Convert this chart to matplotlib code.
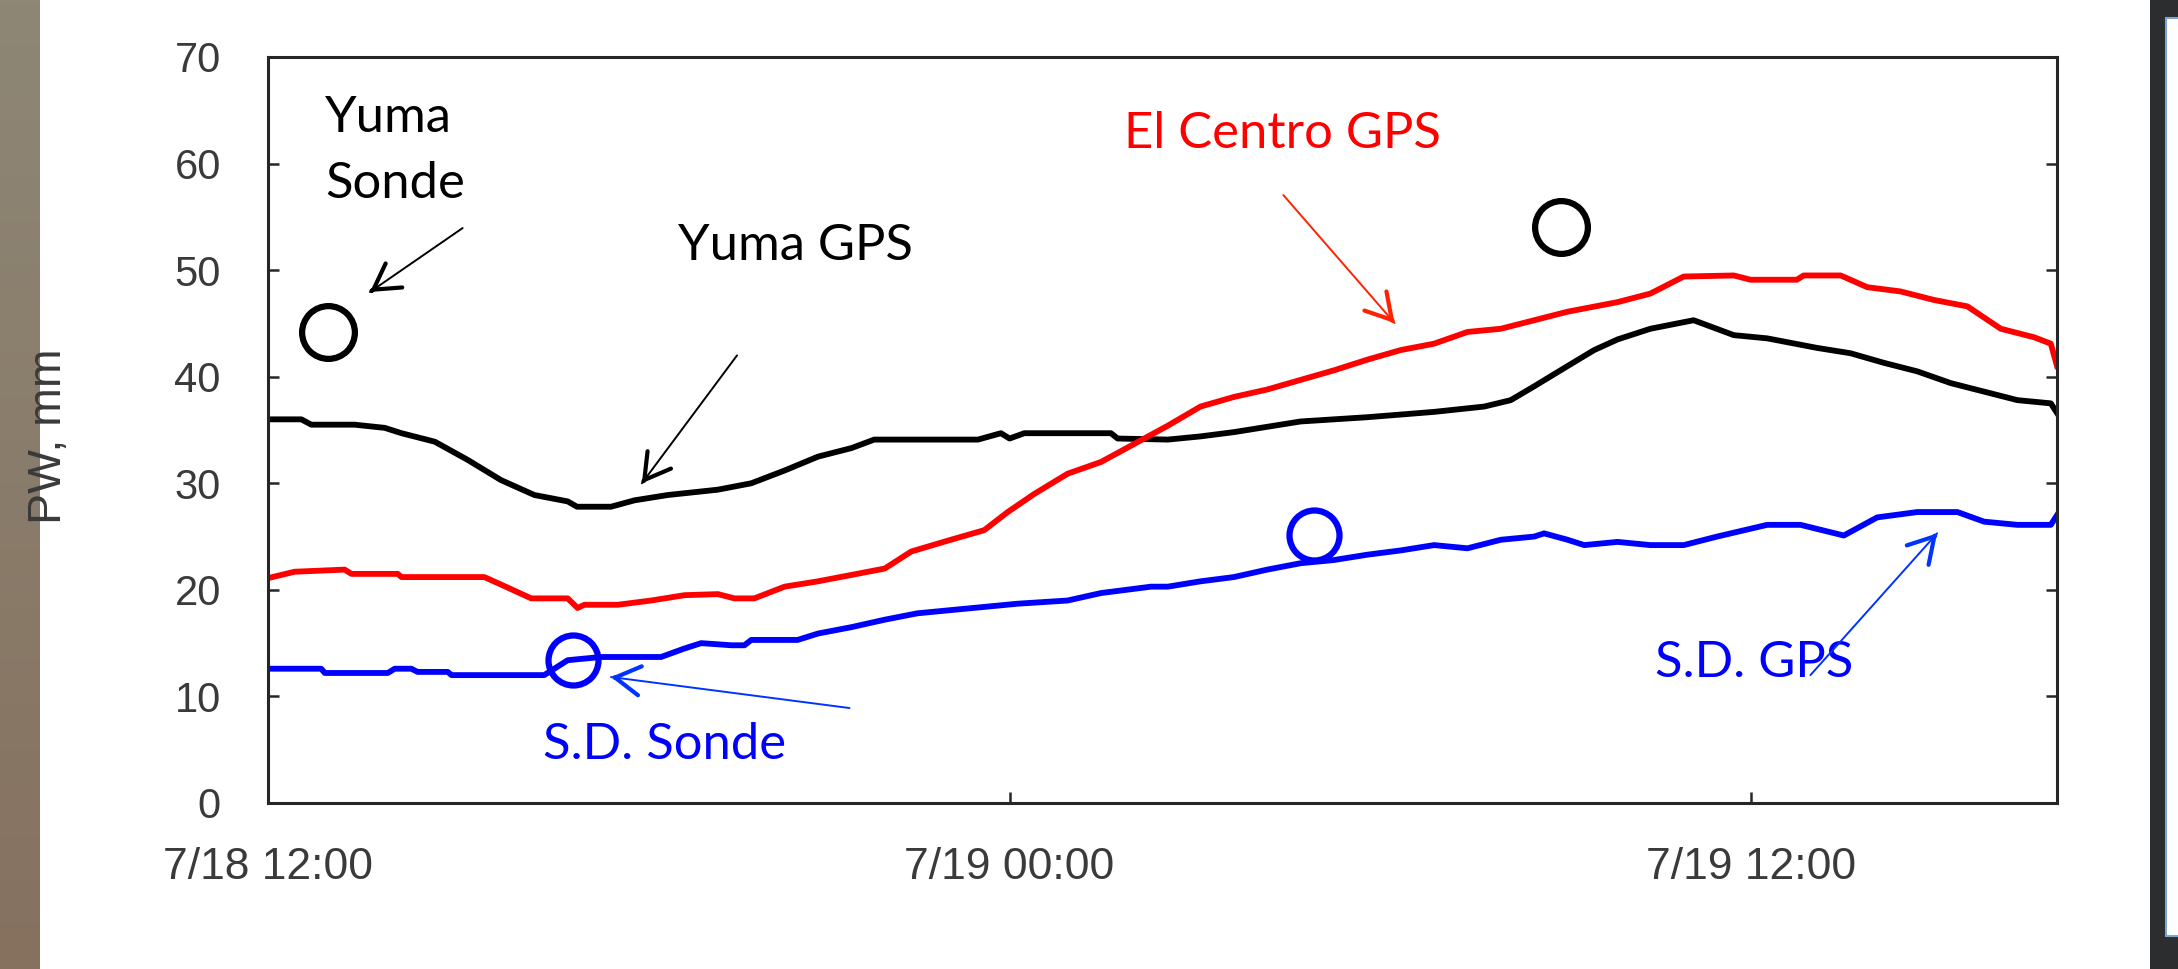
import numpy as np
import matplotlib
matplotlib.use('Agg')
import matplotlib.pyplot as plt
from matplotlib.patches import Rectangle


# hours after 7/18 12:00 and precipitable water (mm)
hours_yuma = [0.0, 0.54, 0.70, 1.40, 1.89, 2.16, 2.70, 3.23, 3.77, 4.31, 4.85, 5.00, 5.55,
              5.93, 6.47, 7.28, 7.82, 8.36, 8.90, 9.44, 9.81, 11.49, 11.86, 12.00, 12.24,
              13.64, 13.75, 14.56, 15.09, 15.63, 16.17, 16.71, 17.79, 18.87, 19.68, 20.11,
              20.49, 21.03, 21.46, 21.84, 22.37, 23.07, 23.72, 24.26, 25.07, 25.61, 26.15,
              26.69, 27.23, 27.77, 28.31, 28.85, 28.95]
pw_yuma_gps = [36.0, 36.0, 35.5, 35.5, 35.2, 34.7, 33.9, 32.2, 30.3, 28.9, 28.3, 27.8, 27.8,
               28.4, 28.9, 29.4, 30.0, 31.2, 32.5, 33.3, 34.1, 34.1, 34.7, 34.2, 34.7,
               34.7, 34.2, 34.1, 34.4, 34.8, 35.3, 35.8, 36.2, 36.7, 37.2, 37.8,
               39.1, 41.0, 42.5, 43.5, 44.5, 45.3, 43.9, 43.6, 42.7, 42.2, 41.3,
               40.5, 39.4, 38.6, 37.8, 37.5, 36.6]

hours_centro = [0.0, 0.43, 1.24, 1.35, 2.10, 2.16, 3.50, 3.77, 4.26, 4.85, 5.01, 5.12, 5.66,
                6.20, 6.74, 7.28, 7.55, 7.87, 8.36, 8.90, 9.44, 9.98, 10.41, 11.05, 11.59,
                11.97, 12.40, 12.94, 13.48, 14.02, 14.56, 15.09, 15.63, 16.17, 16.71, 17.25,
                17.79, 18.33, 18.87, 19.41, 19.95, 20.49, 21.03, 21.57, 21.84, 22.37, 22.91,
                23.72, 23.99, 24.74, 24.85, 25.45, 25.88, 26.42, 26.96, 27.50, 28.04, 28.58,
                28.85, 28.95]
pw_centro_gps = [21.1, 21.7, 21.9, 21.5, 21.5, 21.2, 21.2, 20.5, 19.2, 19.2, 18.3, 18.6, 18.6,
                 19.0, 19.5, 19.6, 19.2, 19.2, 20.3, 20.8, 21.4, 22.0, 23.6, 24.7, 25.6,
                 27.3, 29.0, 30.9, 32.0, 33.7, 35.4, 37.2, 38.1, 38.8, 39.7, 40.6,
                 41.6, 42.5, 43.1, 44.2, 44.5, 45.3, 46.1, 46.7, 47.0, 47.8, 49.4,
                 49.5, 49.1, 49.1, 49.5, 49.5, 48.4, 48.0, 47.2, 46.6, 44.5, 43.7,
                 43.1, 41.0]

hours_sd = [0.0, 0.86, 0.92, 1.94, 2.05, 2.32, 2.42, 2.91, 2.97, 4.47, 4.85, 5.39, 6.36,
            6.74, 7.01, 7.50, 7.71, 7.82, 8.57, 8.90, 9.44, 9.98, 10.51, 11.05, 11.59,
            12.13, 12.94, 13.48, 14.29, 14.56, 15.09, 15.63, 16.17, 16.71, 17.25, 17.79,
            18.33, 18.87, 19.41, 19.95, 20.49, 20.65, 21.03, 21.30, 21.84, 22.37, 22.91,
            23.45, 24.26, 24.80, 25.50, 26.04, 26.69, 27.34, 27.77, 28.31, 28.85, 28.95]
pw_sd_gps = [12.6, 12.6, 12.2, 12.2, 12.6, 12.6, 12.3, 12.3, 12.0, 12.0, 13.4, 13.7, 13.7,
             14.5, 15.0, 14.8, 14.8, 15.3, 15.3, 15.9, 16.5, 17.2, 17.8, 18.1, 18.4,
             18.7, 19.0, 19.7, 20.3, 20.3, 20.8, 21.2, 21.9, 22.5, 22.8, 23.3,
             23.7, 24.2, 23.9, 24.7, 25.0, 25.3, 24.7, 24.2, 24.5, 24.2, 24.2,
             25.0, 26.1, 26.1, 25.1, 26.8, 27.3, 27.3, 26.4, 26.1, 26.1, 27.0]

# radiosonde values
hours_yuma_sonde = [0.97, 20.93]
pw_yuma_sonde = [44.2, 54.05]
hours_sd_sonde = [4.93, 16.92]
pw_sd_sonde = [13.4, 25.15]

tick_hours = [0, 12, 24]
tick_labels = ['7/18 12:00', '7/19 00:00', '7/19 12:00']

W, H = 2178, 969
fig = plt.figure(figsize=(W / 100, H / 100), dpi=100)
fig.patch.set_facecolor('white')

# photo edge on the left and window edge on the right
strip = fig.add_axes([0, 0, 40 / W, 1])
grad = np.linspace(0, 1, 256).reshape(-1, 1, 1)
top_c = np.array([0x8e, 0x87, 0x76]) / 255
bot_c = np.array([0x86, 0x71, 0x5f]) / 255
strip.imshow(top_c * (1 - grad) + bot_c * grad, aspect='auto', extent=[0, 1, 0, 1])
strip.axis('off')
fig.patches.append(Rectangle((2150 / W, 0), 28 / W, 1, transform=fig.transFigure,
                             facecolor='#2c2d2e', edgecolor='none', zorder=5))
fig.patches.append(Rectangle((2166 / W, 1 - 936 / H), 20 / W, 918 / H, transform=fig.transFigure,
                             facecolor='white', edgecolor='#7aa5d6', lw=1.5, zorder=6))

ax = fig.add_axes([268 / W, 1 - 803 / H, (2057 - 268) / W, (803 - 57) / H])

ax.plot(hours_yuma, pw_yuma_gps, color='black', lw=4.2)
ax.plot(hours_centro, pw_centro_gps, color='#ff0000', lw=4.2)
ax.plot(hours_sd, pw_sd_gps, color='#0000ff', lw=4.2)
ax.plot(hours_yuma_sonde, pw_yuma_sonde, 'o', ms=38, mfc='none', mec='black', mew=4.5)
ax.plot(hours_sd_sonde, pw_sd_sonde, 'o', ms=36, mfc='none', mec='#0000ff', mew=4.5)

ax.set_xlim(0, 28.95)
ax.set_ylim(0, 70)
ax.set_xticks(tick_hours)
ax.set_xticklabels(tick_labels)
ax.set_yticks(range(0, 71, 10))

for s in ax.spines.values():
    s.set_color('#262626')
    s.set_linewidth(2.2)
ax.yaxis.set_ticks_position('both')
ax.tick_params(axis='y', direction='in', length=8, width=1.8, color='#262626',
               labelsize=30, labelcolor='#3a3a3a', pad=34)
ax.tick_params(axis='x', direction='in', length=8, width=1.8, color='#262626',
               labelsize=32, labelcolor='#3a3a3a', pad=32)
for lab in ax.get_xticklabels() + ax.get_yticklabels():
    lab.set_family('Liberation Sans')

fig.text(49 / W, 1 - 436 / H, 'PW, mm', rotation=90, ha='center', va='center',
         fontsize=33.5, color='#3a3a3a', family='Liberation Sans')

ann_font = dict(family='Lato', fontsize=36.5)


def arrow(tail, head, color):
    ax.annotate('', xy=head, xytext=tail,
                arrowprops=dict(arrowstyle='-', color=color, lw=1.4, shrinkA=0, shrinkB=0))
    near = (head[0] + (tail[0] - head[0]) * 0.02, head[1] + (tail[1] - head[1]) * 0.02)
    ax.annotate('', xy=head, xytext=near,
                arrowprops=dict(arrowstyle='->,head_length=0.6,head_width=0.35', color=color,
                                lw=3, mutation_scale=30, shrinkA=0, shrinkB=0))


ax.text(0.92, 63.0, 'Yuma', color='black', va='baseline', **ann_font)
ax.text(0.92, 56.8, 'Sonde', color='black', va='baseline', **ann_font)
arrow((3.15, 53.95), (1.65, 47.95), 'black')

ax.text(6.63, 50.95, 'Yuma GPS', color='black', va='baseline', **ann_font)
arrow((7.59, 42.0), (6.05, 30.0), 'black')

ax.text(13.85, 61.45, 'El Centro GPS', color='#ff0000', va='baseline', **ann_font)
arrow((16.43, 57.05), (18.23, 45.04), '#ff2200')

ax.text(4.45, 4.13, 'S.D. Sonde', color='#0000ff', va='baseline', **ann_font)
arrow((9.41, 8.91), (5.55, 11.82), '#0033ff')

ax.text(22.45, 11.82, 'S.D. GPS', color='#0000ff', va='baseline', **ann_font)
arrow((24.96, 12.0), (27.01, 25.3), '#0033ff')

plt.savefig('out.png', dpi=100)
